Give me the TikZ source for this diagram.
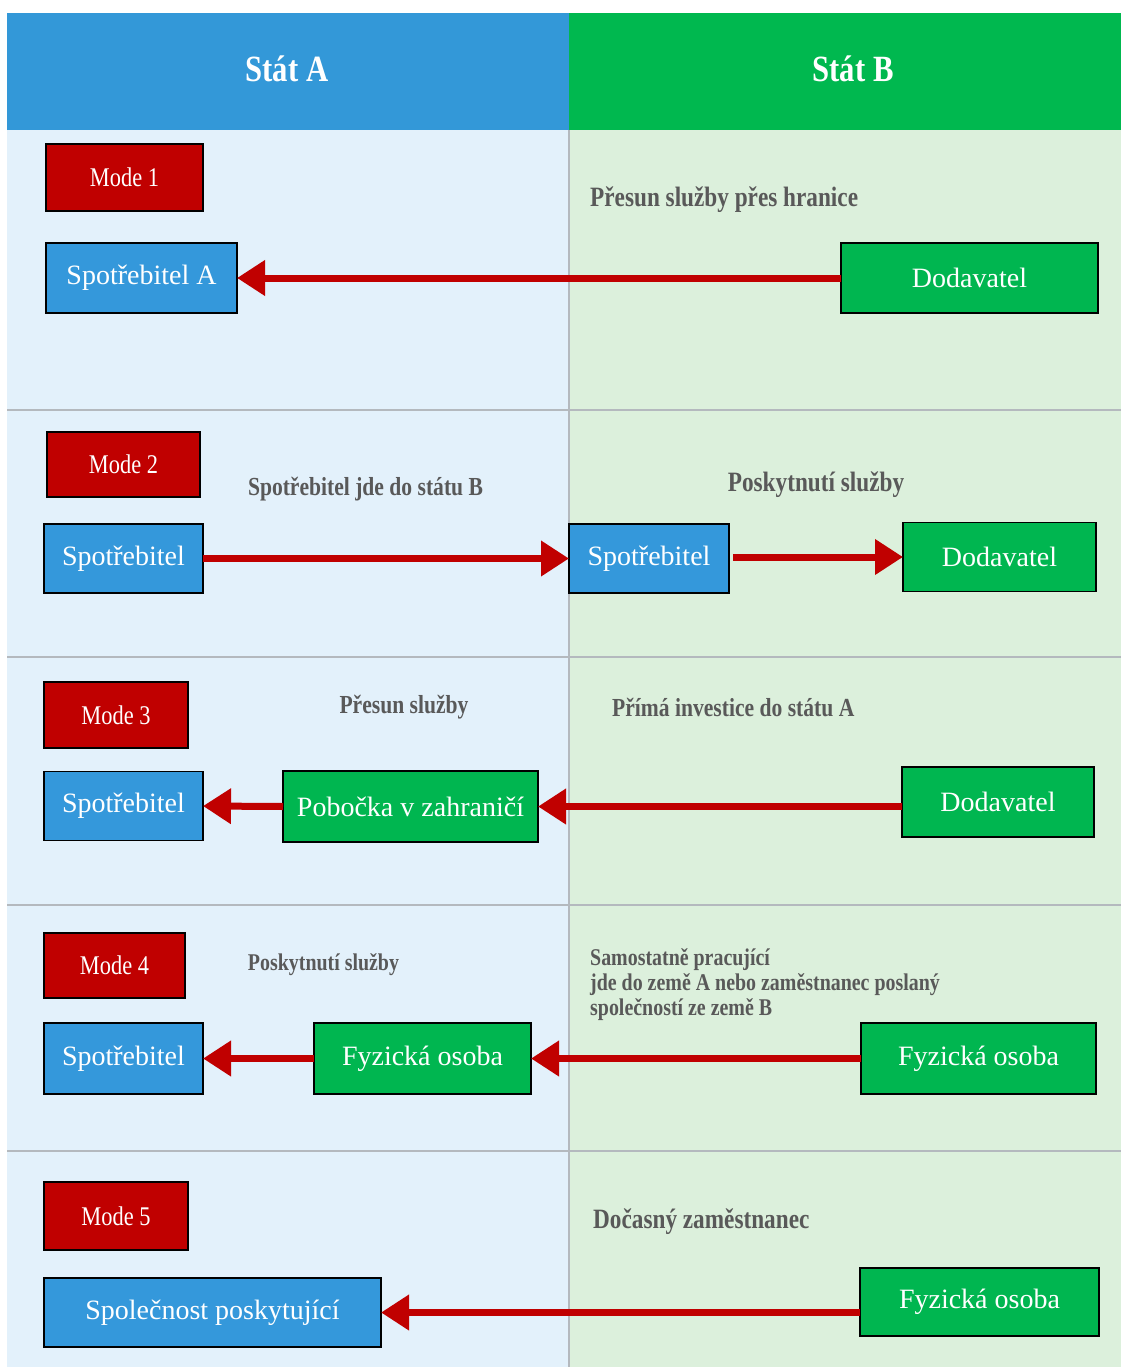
\documentclass[tikz,border=0pt]{standalone}
\usepackage{fontspec}
\setmainfont{Liberation Serif}
\newfontfamily\condfont{Liberation Serif}[FakeStretch=0.83]
\usetikzlibrary{arrows.meta}
\definecolor{hdrblue}{RGB}{51,152,216}
\definecolor{hdrgreen}{RGB}{0,184,79}
\definecolor{bodyblue}{RGB}{227,241,251}
\definecolor{bodygreen}{RGB}{220,240,220}
\definecolor{boxblue}{RGB}{52,152,219}
\definecolor{boxgreen}{RGB}{0,182,80}
\definecolor{modered}{RGB}{192,0,0}
\definecolor{labelgray}{RGB}{89,89,89}
\definecolor{sepgray}{RGB}{180,185,190}
\newcommand{\lblsize}[1]{\condfont\bfseries\fontsize{#1}{#1}\selectfont}
\tikzset{
  base/.style={draw=black, line width=1.5pt, inner sep=0pt, outer sep=0pt, text=white},
  bbox/.style={base, fill=boxblue, font=\fontsize{28}{30}\selectfont},
  gbox/.style={base, fill=boxgreen, font=\fontsize{28}{30}\selectfont},
  modebox/.style={base, fill=modered, font=\condfont\fontsize{27}{29}\selectfont},
  hdr/.style={text=white, font=\condfont\bfseries\fontsize{37}{40}\selectfont},
  lbl/.style={text=labelgray, inner sep=0pt, font=\lblsize{27}},
  arr/.style={draw=modered, line width=7pt, -{Triangle[length=28pt,width=34pt]}},
  sep/.style={draw=sepgray, line width=2pt}
}
\begin{document}
\begin{tikzpicture}[x=1pt,y=-1pt]
\useasboundingbox (0,0) rectangle (1121,1367);
\fill[white] (0,0) rectangle (1121,1367);
% backgrounds
\fill[hdrblue] (7,13) rectangle (569,130);
\fill[hdrgreen] (569,13) rectangle (1121,130);
\fill[bodyblue] (7,130) rectangle (569,1367);
\fill[bodygreen] (569,130) rectangle (1121,1367);
\draw[sep] (569,130) -- (569,1367);
\foreach \yy in {410,657,905,1151} {\draw[sep] (7,\yy) -- (1121,\yy);}
% headers
\node[hdr] (hA) at (287,69) {Stát A};
\node[hdr] (hB) at (853,69) {Stát B};

% Row 1
\node[modebox, minimum width=157pt, minimum height=67pt] (m1) at (124.5,177.5) {Mode 1};
\node[bbox, minimum width=191pt, minimum height=70pt] (a1) at (141.5,278) {Spotřebitel A};
\node[gbox, minimum width=257pt, minimum height=70pt] (d1) at (969.5,278) {Dodavatel};
\node[lbl, anchor=west, font=\lblsize{28}] (l1) at (590,200) {Přesun služby přes hranice};
\draw[arr] (d1.west) -- (a1.east);

% Row 2
\node[modebox, minimum width=153pt, minimum height=65pt] (m2) at (123.5,464.5) {Mode 2};
\node[lbl, font=\lblsize{26}] (l2a) at (365.5,489) {Spotřebitel jde do státu B};
\node[lbl, font=\lblsize{28}] (l2b) at (816,485) {Poskytnutí služby};
\node[bbox, minimum width=159pt, minimum height=69pt] (a2) at (123.5,558.5) {Spotřebitel};
\node[bbox, minimum width=160pt, minimum height=69pt] (b2) at (649,558.5) {Spotřebitel};
\node[gbox, minimum width=193pt, minimum height=69pt] (d2) at (999.5,557) {Dodavatel};
\draw[arr] (a2.east) -- (b2.west);
\draw[arr, shorten <=4pt] (b2.east |- d2.west) -- (d2.west);

% Row 3
\node[modebox, minimum width=144pt, minimum height=66pt] (m3) at (116,715) {Mode 3};
\node[lbl, font=\lblsize{26}] (l3a) at (404,707) {Přesun služby};
\node[lbl, anchor=west, font=\lblsize{26}] (l3b) at (612,707) {Přímá investice do státu A};
\node[bbox, minimum width=159pt, minimum height=69pt] (a3) at (123.5,806) {Spotřebitel};
\node[gbox, minimum width=255pt, minimum height=71pt] (p3) at (410.5,806.5) {Pobočka v zahraničí};
\node[gbox, minimum width=192pt, minimum height=70pt] (d3) at (998,802) {Dodavatel};
\draw[arr] (p3.west) -- (a3.east);
\draw[arr] (d3.west |- p3.east) -- (p3.east);

% Row 4
\node[modebox, minimum width=141pt, minimum height=65pt] (m4) at (114.5,965.5) {Mode 4};
\node[lbl, font=\lblsize{24}] (l4a) at (323.5,965) {Poskytnutí služby};
\node[lbl, anchor=north west, align=left, font=\condfont\bfseries\fontsize{24}{25}\selectfont] (l4b) at (590,948) {Samostatně pracující\\jde do země A nebo zaměstnanec poslaný\\společností ze země B};
\node[bbox, minimum width=159pt, minimum height=71pt] (a4) at (123.5,1058.5) {Spotřebitel};
\node[gbox, minimum width=217pt, minimum height=71pt] (f4) at (422.5,1058.5) {Fyzická osoba};
\node[gbox, minimum width=235pt, minimum height=71pt] (g4) at (978.5,1058.5) {Fyzická osoba};
\draw[arr] (f4.west) -- (a4.east);
\draw[arr] (g4.west) -- (f4.east);

% Row 5
\node[modebox, minimum width=144pt, minimum height=68pt] (m5) at (116,1216) {Mode 5};
\node[lbl, anchor=west, font=\lblsize{28}] (l5) at (593,1222) {Dočasný zaměstnanec};
\node[bbox, minimum width=337pt, minimum height=69pt] (s5) at (212.5,1312.5) {Společnost poskytující};
\node[gbox, minimum width=239pt, minimum height=68pt] (f5) at (979.5,1302) {Fyzická osoba};
\draw[arr] (f5.west |- s5.east) -- (s5.east);
\end{tikzpicture}
\end{document}
